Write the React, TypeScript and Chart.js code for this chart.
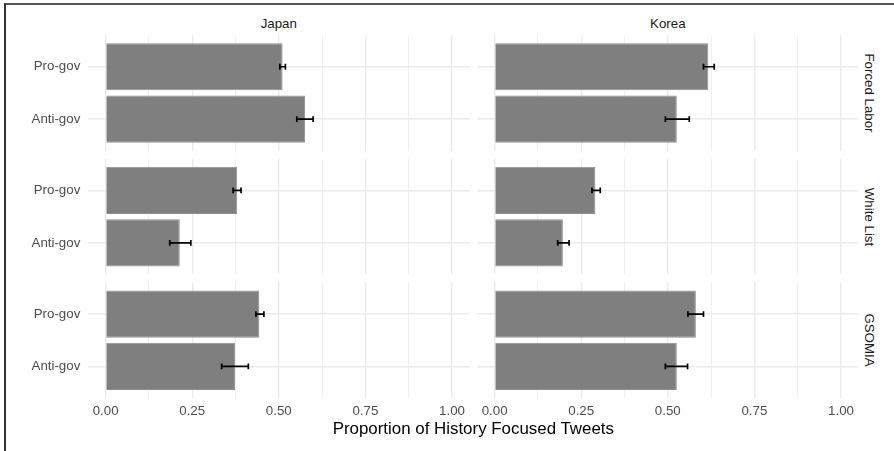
import { useEffect, useRef } from 'react';
import { Chart, registerables } from 'chart.js';

Chart.register(...registerables);

// ---------- data ----------
const facetCols = ['Japan', 'Korea'];
const facetRows = ['Forced Labor', 'White List', 'GSOMIA'];
const groupLabels = ['Anti-gov', 'Pro-gov']; // bottom -> top
const groupPositions = [1, 2];

const japanPro = [0.511, 0.380, 0.444];
const japanProLo = [0.503, 0.368, 0.434];
const japanProHi = [0.519, 0.391, 0.457];
const japanAnti = [0.576, 0.214, 0.374];
const japanAntiLo = [0.552, 0.185, 0.335];
const japanAntiHi = [0.599, 0.246, 0.412];

const koreaPro = [0.617, 0.291, 0.581];
const koreaProLo = [0.603, 0.281, 0.558];
const koreaProHi = [0.634, 0.305, 0.603];
const koreaAnti = [0.526, 0.197, 0.526];
const koreaAntiLo = [0.493, 0.182, 0.493];
const koreaAntiHi = [0.562, 0.215, 0.557];

const xTicks = [0, 0.25, 0.5, 0.75, 1.0];
const xTickLabels = ['0.00', '0.25', '0.50', '0.75', '1.00'];
const xMinorTicks = [0.125, 0.375, 0.625, 0.875];
const xAxisTitle = 'Proportion of History Focused Tweets';

const seriesByCol = [
  { pro: japanPro, proLo: japanProLo, proHi: japanProHi, anti: japanAnti, antiLo: japanAntiLo, antiHi: japanAntiHi },
  { pro: koreaPro, proLo: koreaProLo, proHi: koreaProHi, anti: koreaAnti, antiLo: koreaAntiLo, antiHi: koreaAntiHi },
];

// ---------- layout ----------
const FONT = "'Liberation Sans', Arial, Helvetica, sans-serif";
const colLeft = [88.3, 477.3];
const rowTop = [35.3, 159.0, 282.6];
const panelW = 381;
const panelH = 115.3;
const xLabelBand = 26;

const errorBarPlugin = {
  id: 'errbars',
  afterDatasetsDraw(chart: any, _args: any, opts: any) {
    const { ctx } = chart;
    const x = chart.scales.x;
    const y = chart.scales.y;
    const band = Math.abs(y.getPixelForValue(1) - y.getPixelForValue(2));
    const half = band * 0.055;
    ctx.save();
    ctx.strokeStyle = '#000000';
    ctx.lineWidth = 1.7;
    (opts.pos as number[]).forEach((p, i) => {
      const py = y.getPixelForValue(p);
      const x0 = x.getPixelForValue(opts.lo[i]);
      const x1 = x.getPixelForValue(opts.hi[i]);
      ctx.beginPath();
      ctx.moveTo(x0, py);
      ctx.lineTo(x1, py);
      ctx.moveTo(x0, py - half);
      ctx.lineTo(x0, py + half);
      ctx.moveTo(x1, py - half);
      ctx.lineTo(x1, py + half);
      ctx.stroke();
    });
    ctx.restore();
  },
};

type PanelGeom = {
  r: number; c: number; cLeft: number; cTop: number; w: number; h: number;
  padTop: number; padLeft: number; padRight: number; padBottom: number;
  yWidth: number; xHeight: number; showX: boolean; showY: boolean;
};

const panels: PanelGeom[] = [];
for (let r = 0; r < facetRows.length; r++) {
  for (let c = 0; c < facetCols.length; c++) {
    const L = colLeft[c];
    const T = rowTop[r];
    const showY = c === 0;
    const showX = r === facetRows.length - 1;
    const cLeft = showY ? 0 : Math.floor(L);
    const cTop = Math.floor(T);
    const cRight = Math.ceil(L + panelW);
    const cBottom = Math.ceil(T + panelH) + (showX ? xLabelBand : 0);
    panels.push({
      r, c, cLeft, cTop, w: cRight - cLeft, h: cBottom - cTop,
      padTop: T - cTop,
      padLeft: showY ? 0 : L - cLeft,
      padRight: cRight - (L + panelW),
      padBottom: showX ? 0 : cBottom - (T + panelH),
      yWidth: showY ? L : 0,
      xHeight: showX ? cBottom - (T + panelH) : 0,
      showX, showY,
    });
  }
}

export default function App() {
  const refs = useRef<(HTMLCanvasElement | null)[]>([]);

  useEffect(() => {
    const charts: Chart[] = [];
    panels.forEach((p, k) => {
      const canvas = refs.current[k];
      if (!canvas) return;
      const s = seriesByCol[p.c];
      const allX = [...xTicks, ...xMinorTicks].sort((a, b) => a - b);
      const chart = new Chart(canvas, {
        type: 'bar',
        data: {
          datasets: [
            {
              data: [
                { x: s.anti[p.r], y: groupPositions[0] },
                { x: s.pro[p.r], y: groupPositions[1] },
              ],
              backgroundColor: '#7F7F7F',
              borderColor: '#8F8F8F',
              borderWidth: 1,
              barPercentage: 0.9,
              categoryPercentage: 1,
            } as any,
          ],
        },
        options: {
          indexAxis: 'y',
          animation: false,
          responsive: false,
          maintainAspectRatio: false,
          events: [],
          layout: { padding: { top: p.padTop, left: p.padLeft, right: p.padRight, bottom: p.padBottom } },
          plugins: {
            legend: { display: false },
            tooltip: { enabled: false },
            errbars: {
              pos: groupPositions,
              lo: [s.antiLo[p.r], s.proLo[p.r]],
              hi: [s.antiHi[p.r], s.proHi[p.r]],
            },
          } as any,
          scales: {
            x: {
              type: 'linear',
              min: -0.05,
              max: 1.05,
              offset: false,
              afterBuildTicks: (scale: any) => {
                scale.ticks = allX.map((v) => ({ value: v }));
              },
              afterFit: (scale: any) => {
                scale.height = p.xHeight;
                scale.paddingLeft = 0; scale.paddingRight = 0;
                scale.paddingTop = 0; scale.paddingBottom = 0;
              },
              ticks: {
                display: p.showX,
                autoSkip: false,
                maxRotation: 0,
                padding: 5,
                color: '#4D4D4D',
                font: { family: FONT, size: 13.3 },
                callback: (v: any) => {
                  const i = xTicks.indexOf(Number(v));
                  return i >= 0 ? xTickLabels[i] : '';
                },
              },
              grid: {
                offset: false,
                drawTicks: false,
                color: (ctx: any) =>
                  ctx.tick && xMinorTicks.includes(ctx.tick.value) ? '#F0F0F0' : '#EBEBEB',
                lineWidth: (ctx: any) =>
                  ctx.tick && xMinorTicks.includes(ctx.tick.value) ? 1 : 1.4,
              },
              border: { display: false },
            },
            y: {
              type: 'linear',
              min: 0.4,
              max: 2.6,
              offset: false,
              afterBuildTicks: (scale: any) => {
                scale.ticks = groupPositions.map((v) => ({ value: v }));
              },
              afterFit: (scale: any) => {
                scale.width = p.yWidth;
                scale.paddingLeft = 0; scale.paddingRight = 0;
                scale.paddingTop = 0; scale.paddingBottom = 0;
              },
              ticks: {
                display: p.showY,
                autoSkip: false,
                padding: 8,
                color: '#4D4D4D',
                font: { family: FONT, size: 13.3 },
                callback: (v: any) => {
                  const i = groupPositions.indexOf(Number(v));
                  return i >= 0 ? groupLabels[i] : '';
                },
              },
              grid: { offset: false, drawTicks: false, color: '#EBEBEB', lineWidth: 1.4 },
              border: { display: false },
            },
          },
        },
        plugins: [errorBarPlugin],
      });
      charts.push(chart);
    });
    return () => charts.forEach((ch) => ch.destroy());
  }, []);

  const textBase: any = {
    position: 'absolute',
    whiteSpace: 'nowrap',
    lineHeight: 1,
    fontFamily: FONT,
    transform: 'translate(-50%, -50%)',
  };

  return (
    <div style={{ position: 'absolute', left: 0, top: 0, width: 894, height: 451, background: '#ffffff', overflow: 'hidden' }}>
      <div style={{ position: 'absolute', left: 4, top: 3, width: 900, height: 460, borderTop: '2px solid #555555', borderLeft: '2px solid #333333', boxSizing: 'border-box' }} />
      {panels.map((p, k) => (
        <canvas
          key={k}
          ref={(el) => { refs.current[k] = el; }}
          width={p.w}
          height={p.h}
          style={{ position: 'absolute', left: p.cLeft, top: p.cTop, width: p.w, height: p.h, display: 'block' }}
        />
      ))}
      {facetCols.map((name, c) => (
        <div key={name} style={{ ...textBase, left: colLeft[c] + panelW / 2, top: 24, fontSize: 13.3, color: '#1A1A1A' }}>
          {name}
        </div>
      ))}
      {facetRows.map((name, r) => (
        <div key={name} style={{ ...textBase, left: 868.5, top: rowTop[r] + panelH / 2, fontSize: 13.3, color: '#1A1A1A', transform: 'translate(-50%, -50%) rotate(90deg)' }}>
          {name}
        </div>
      ))}
      <div style={{ ...textBase, left: (colLeft[0] + colLeft[1] + panelW) / 2, top: 428.5, fontSize: 16.9, color: '#000000' }}>
        {xAxisTitle}
      </div>
    </div>
  );
}
